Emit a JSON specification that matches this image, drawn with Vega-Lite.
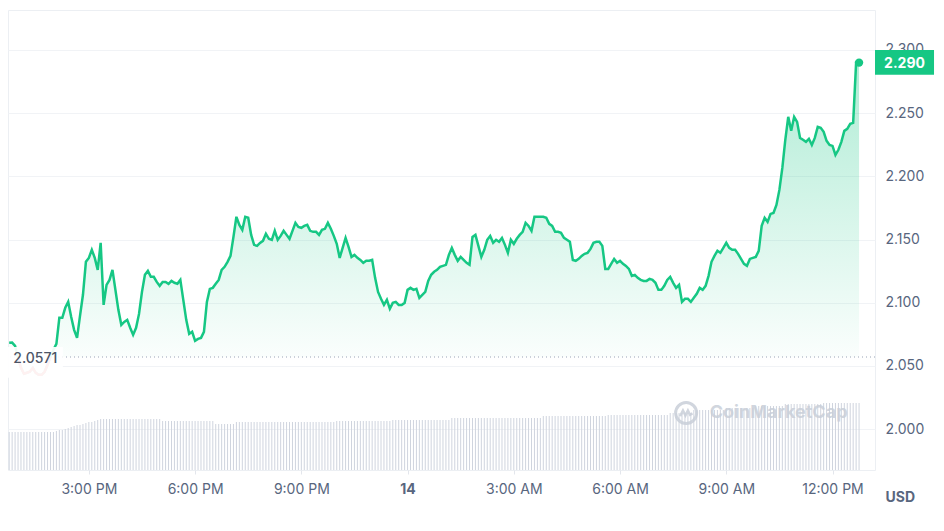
{
  "$schema": "https://vega.github.io/schema/vega-lite/v6.json",
  "width": 867,
  "height": 460,
  "autosize": "none",
  "padding": {"left": 8, "top": 10, "right": 69, "bottom": 61},
  "background": "white",
  "config": {
    "font": "Inter",
    "view": {"stroke": "#eceff3", "strokeWidth": 1},
    "axis": {
      "labelFont": "Inter",
      "labelFontSize": 14,
      "labelColor": "#58667e",
      "domain": false,
      "gridColor": "#f1f3f6",
      "tickColor": "#e3e6ec",
      "titleFont": "Inter"
    }
  },
  "data": {
    "format": {"parse": {"t": "date"}},
    "values": [
      {"t": "2025-04-13T12:45", "p": 2.0683, "v": 380},
      {"t": "2025-04-13T12:50", "p": 2.0685, "v": 380},
      {"t": "2025-04-13T12:55", "p": 2.0659, "v": 380},
      {"t": "2025-04-13T13:00", "p": 2.0564, "v": 380},
      {"t": "2025-04-13T13:05", "p": 2.0485, "v": 380},
      {"t": "2025-04-13T13:10", "p": 2.0438, "v": 380},
      {"t": "2025-04-13T13:15", "p": 2.0446, "v": 380},
      {"t": "2025-04-13T13:20", "p": 2.0454, "v": 380},
      {"t": "2025-04-13T13:25", "p": 2.0485, "v": 380},
      {"t": "2025-04-13T13:30", "p": 2.0446, "v": 380},
      {"t": "2025-04-13T13:35", "p": 2.0430, "v": 380},
      {"t": "2025-04-13T13:40", "p": 2.0430, "v": 380},
      {"t": "2025-04-13T13:45", "p": 2.0454, "v": 380},
      {"t": "2025-04-13T13:50", "p": 2.0509, "v": 380},
      {"t": "2025-04-13T13:55", "p": 2.0572, "v": 380},
      {"t": "2025-04-13T14:00", "p": 2.0628, "v": 380},
      {"t": "2025-04-13T14:05", "p": 2.0675, "v": 390},
      {"t": "2025-04-13T14:10", "p": 2.0881, "v": 400},
      {"t": "2025-04-13T14:15", "p": 2.0881, "v": 400},
      {"t": "2025-04-13T14:20", "p": 2.0960, "v": 410},
      {"t": "2025-04-13T14:25", "p": 2.1007, "v": 420},
      {"t": "2025-04-13T14:30", "p": 2.0889, "v": 430},
      {"t": "2025-04-13T14:35", "p": 2.0786, "v": 440},
      {"t": "2025-04-13T14:40", "p": 2.0722, "v": 450},
      {"t": "2025-04-13T14:45", "p": 2.0896, "v": 450},
      {"t": "2025-04-13T14:50", "p": 2.1063, "v": 460},
      {"t": "2025-04-13T14:55", "p": 2.1324, "v": 470},
      {"t": "2025-04-13T15:00", "p": 2.1355, "v": 480},
      {"t": "2025-04-13T15:05", "p": 2.1419, "v": 480},
      {"t": "2025-04-13T15:10", "p": 2.1355, "v": 490},
      {"t": "2025-04-13T15:15", "p": 2.1260, "v": 500},
      {"t": "2025-04-13T15:20", "p": 2.1474, "v": 510},
      {"t": "2025-04-13T15:25", "p": 2.0983, "v": 510},
      {"t": "2025-04-13T15:30", "p": 2.1142, "v": 510},
      {"t": "2025-04-13T15:35", "p": 2.1181, "v": 510},
      {"t": "2025-04-13T15:40", "p": 2.1260, "v": 510},
      {"t": "2025-04-13T15:45", "p": 2.1102, "v": 510},
      {"t": "2025-04-13T15:50", "p": 2.0944, "v": 510},
      {"t": "2025-04-13T15:55", "p": 2.0825, "v": 510},
      {"t": "2025-04-13T16:00", "p": 2.0849, "v": 510},
      {"t": "2025-04-13T16:05", "p": 2.0865, "v": 510},
      {"t": "2025-04-13T16:10", "p": 2.0802, "v": 510},
      {"t": "2025-04-13T16:15", "p": 2.0746, "v": 510},
      {"t": "2025-04-13T16:20", "p": 2.0802, "v": 510},
      {"t": "2025-04-13T16:25", "p": 2.0912, "v": 510},
      {"t": "2025-04-13T16:30", "p": 2.1086, "v": 510},
      {"t": "2025-04-13T16:35", "p": 2.1221, "v": 510},
      {"t": "2025-04-13T16:40", "p": 2.1252, "v": 510},
      {"t": "2025-04-13T16:45", "p": 2.1205, "v": 510},
      {"t": "2025-04-13T16:50", "p": 2.1205, "v": 510},
      {"t": "2025-04-13T16:55", "p": 2.1165, "v": 510},
      {"t": "2025-04-13T17:00", "p": 2.1134, "v": 510},
      {"t": "2025-04-13T17:05", "p": 2.1165, "v": 490},
      {"t": "2025-04-13T17:10", "p": 2.1165, "v": 490},
      {"t": "2025-04-13T17:15", "p": 2.1150, "v": 490},
      {"t": "2025-04-13T17:20", "p": 2.1173, "v": 490},
      {"t": "2025-04-13T17:25", "p": 2.1158, "v": 490},
      {"t": "2025-04-13T17:30", "p": 2.1150, "v": 490},
      {"t": "2025-04-13T17:35", "p": 2.1181, "v": 490},
      {"t": "2025-04-13T17:40", "p": 2.1023, "v": 490},
      {"t": "2025-04-13T17:45", "p": 2.0865, "v": 490},
      {"t": "2025-04-13T17:50", "p": 2.0754, "v": 490},
      {"t": "2025-04-13T17:55", "p": 2.0770, "v": 490},
      {"t": "2025-04-13T18:00", "p": 2.0699, "v": 490},
      {"t": "2025-04-13T18:05", "p": 2.0714, "v": 490},
      {"t": "2025-04-13T18:10", "p": 2.0722, "v": 490},
      {"t": "2025-04-13T18:15", "p": 2.0770, "v": 490},
      {"t": "2025-04-13T18:20", "p": 2.1007, "v": 490},
      {"t": "2025-04-13T18:25", "p": 2.1110, "v": 490},
      {"t": "2025-04-13T18:30", "p": 2.1118, "v": 490},
      {"t": "2025-04-13T18:35", "p": 2.1150, "v": 460},
      {"t": "2025-04-13T18:40", "p": 2.1181, "v": 460},
      {"t": "2025-04-13T18:45", "p": 2.1260, "v": 460},
      {"t": "2025-04-13T18:50", "p": 2.1284, "v": 460},
      {"t": "2025-04-13T18:55", "p": 2.1324, "v": 460},
      {"t": "2025-04-13T19:00", "p": 2.1371, "v": 460},
      {"t": "2025-04-13T19:05", "p": 2.1521, "v": 460},
      {"t": "2025-04-13T19:10", "p": 2.1680, "v": 480},
      {"t": "2025-04-13T19:15", "p": 2.1616, "v": 480},
      {"t": "2025-04-13T19:20", "p": 2.1577, "v": 480},
      {"t": "2025-04-13T19:25", "p": 2.1680, "v": 480},
      {"t": "2025-04-13T19:30", "p": 2.1672, "v": 480},
      {"t": "2025-04-13T19:35", "p": 2.1537, "v": 480},
      {"t": "2025-04-13T19:40", "p": 2.1458, "v": 480},
      {"t": "2025-04-13T19:45", "p": 2.1450, "v": 480},
      {"t": "2025-04-13T19:50", "p": 2.1474, "v": 480},
      {"t": "2025-04-13T19:55", "p": 2.1490, "v": 480},
      {"t": "2025-04-13T20:00", "p": 2.1545, "v": 480},
      {"t": "2025-04-13T20:05", "p": 2.1506, "v": 480},
      {"t": "2025-04-13T20:10", "p": 2.1498, "v": 480},
      {"t": "2025-04-13T20:15", "p": 2.1569, "v": 480},
      {"t": "2025-04-13T20:20", "p": 2.1498, "v": 480},
      {"t": "2025-04-13T20:25", "p": 2.1529, "v": 480},
      {"t": "2025-04-13T20:30", "p": 2.1569, "v": 480},
      {"t": "2025-04-13T20:35", "p": 2.1537, "v": 480},
      {"t": "2025-04-13T20:40", "p": 2.1506, "v": 480},
      {"t": "2025-04-13T20:45", "p": 2.1569, "v": 480},
      {"t": "2025-04-13T20:50", "p": 2.1632, "v": 480},
      {"t": "2025-04-13T20:55", "p": 2.1600, "v": 480},
      {"t": "2025-04-13T21:00", "p": 2.1593, "v": 480},
      {"t": "2025-04-13T21:05", "p": 2.1608, "v": 480},
      {"t": "2025-04-13T21:10", "p": 2.1616, "v": 480},
      {"t": "2025-04-13T21:15", "p": 2.1569, "v": 480},
      {"t": "2025-04-13T21:20", "p": 2.1561, "v": 480},
      {"t": "2025-04-13T21:25", "p": 2.1561, "v": 480},
      {"t": "2025-04-13T21:30", "p": 2.1537, "v": 480},
      {"t": "2025-04-13T21:35", "p": 2.1577, "v": 480},
      {"t": "2025-04-13T21:40", "p": 2.1585, "v": 480},
      {"t": "2025-04-13T21:45", "p": 2.1632, "v": 480},
      {"t": "2025-04-13T21:50", "p": 2.1585, "v": 480},
      {"t": "2025-04-13T21:55", "p": 2.1529, "v": 480},
      {"t": "2025-04-13T22:00", "p": 2.1466, "v": 490},
      {"t": "2025-04-13T22:05", "p": 2.1355, "v": 490},
      {"t": "2025-04-13T22:10", "p": 2.1434, "v": 490},
      {"t": "2025-04-13T22:15", "p": 2.1513, "v": 490},
      {"t": "2025-04-13T22:20", "p": 2.1442, "v": 490},
      {"t": "2025-04-13T22:25", "p": 2.1363, "v": 490},
      {"t": "2025-04-13T22:30", "p": 2.1379, "v": 490},
      {"t": "2025-04-13T22:35", "p": 2.1355, "v": 490},
      {"t": "2025-04-13T22:40", "p": 2.1339, "v": 490},
      {"t": "2025-04-13T22:45", "p": 2.1316, "v": 490},
      {"t": "2025-04-13T22:50", "p": 2.1332, "v": 490},
      {"t": "2025-04-13T22:55", "p": 2.1332, "v": 490},
      {"t": "2025-04-13T23:00", "p": 2.1339, "v": 490},
      {"t": "2025-04-13T23:05", "p": 2.1197, "v": 490},
      {"t": "2025-04-13T23:10", "p": 2.1086, "v": 490},
      {"t": "2025-04-13T23:15", "p": 2.1031, "v": 490},
      {"t": "2025-04-13T23:20", "p": 2.0983, "v": 490},
      {"t": "2025-04-13T23:25", "p": 2.1023, "v": 490},
      {"t": "2025-04-13T23:30", "p": 2.0952, "v": 490},
      {"t": "2025-04-13T23:35", "p": 2.0999, "v": 500},
      {"t": "2025-04-13T23:40", "p": 2.1007, "v": 500},
      {"t": "2025-04-13T23:45", "p": 2.0983, "v": 500},
      {"t": "2025-04-13T23:50", "p": 2.0983, "v": 500},
      {"t": "2025-04-13T23:55", "p": 2.0999, "v": 500},
      {"t": "2025-04-14T00:00", "p": 2.1102, "v": 500},
      {"t": "2025-04-14T00:05", "p": 2.1118, "v": 500},
      {"t": "2025-04-14T00:10", "p": 2.1102, "v": 500},
      {"t": "2025-04-14T00:15", "p": 2.1110, "v": 500},
      {"t": "2025-04-14T00:20", "p": 2.1039, "v": 500},
      {"t": "2025-04-14T00:25", "p": 2.1063, "v": 500},
      {"t": "2025-04-14T00:30", "p": 2.1086, "v": 500},
      {"t": "2025-04-14T00:35", "p": 2.1173, "v": 500},
      {"t": "2025-04-14T00:40", "p": 2.1221, "v": 500},
      {"t": "2025-04-14T00:45", "p": 2.1245, "v": 500},
      {"t": "2025-04-14T00:50", "p": 2.1260, "v": 500},
      {"t": "2025-04-14T00:55", "p": 2.1284, "v": 500},
      {"t": "2025-04-14T01:00", "p": 2.1292, "v": 500},
      {"t": "2025-04-14T01:05", "p": 2.1300, "v": 500},
      {"t": "2025-04-14T01:10", "p": 2.1379, "v": 500},
      {"t": "2025-04-14T01:15", "p": 2.1434, "v": 520},
      {"t": "2025-04-14T01:20", "p": 2.1379, "v": 520},
      {"t": "2025-04-14T01:25", "p": 2.1332, "v": 520},
      {"t": "2025-04-14T01:30", "p": 2.1363, "v": 520},
      {"t": "2025-04-14T01:35", "p": 2.1339, "v": 520},
      {"t": "2025-04-14T01:40", "p": 2.1316, "v": 520},
      {"t": "2025-04-14T01:45", "p": 2.1300, "v": 520},
      {"t": "2025-04-14T01:50", "p": 2.1521, "v": 520},
      {"t": "2025-04-14T01:55", "p": 2.1537, "v": 520},
      {"t": "2025-04-14T02:00", "p": 2.1450, "v": 520},
      {"t": "2025-04-14T02:05", "p": 2.1363, "v": 520},
      {"t": "2025-04-14T02:10", "p": 2.1419, "v": 520},
      {"t": "2025-04-14T02:15", "p": 2.1498, "v": 520},
      {"t": "2025-04-14T02:20", "p": 2.1529, "v": 520},
      {"t": "2025-04-14T02:25", "p": 2.1474, "v": 520},
      {"t": "2025-04-14T02:30", "p": 2.1498, "v": 520},
      {"t": "2025-04-14T02:35", "p": 2.1482, "v": 520},
      {"t": "2025-04-14T02:40", "p": 2.1513, "v": 520},
      {"t": "2025-04-14T02:45", "p": 2.1458, "v": 520},
      {"t": "2025-04-14T02:50", "p": 2.1395, "v": 520},
      {"t": "2025-04-14T02:55", "p": 2.1498, "v": 520},
      {"t": "2025-04-14T03:00", "p": 2.1466, "v": 520},
      {"t": "2025-04-14T03:05", "p": 2.1506, "v": 520},
      {"t": "2025-04-14T03:10", "p": 2.1537, "v": 520},
      {"t": "2025-04-14T03:15", "p": 2.1561, "v": 520},
      {"t": "2025-04-14T03:20", "p": 2.1632, "v": 520},
      {"t": "2025-04-14T03:25", "p": 2.1608, "v": 520},
      {"t": "2025-04-14T03:30", "p": 2.1569, "v": 520},
      {"t": "2025-04-14T03:35", "p": 2.1680, "v": 520},
      {"t": "2025-04-14T03:40", "p": 2.1680, "v": 520},
      {"t": "2025-04-14T03:45", "p": 2.1680, "v": 520},
      {"t": "2025-04-14T03:50", "p": 2.1680, "v": 540},
      {"t": "2025-04-14T03:55", "p": 2.1672, "v": 540},
      {"t": "2025-04-14T04:00", "p": 2.1624, "v": 540},
      {"t": "2025-04-14T04:05", "p": 2.1608, "v": 540},
      {"t": "2025-04-14T04:10", "p": 2.1561, "v": 540},
      {"t": "2025-04-14T04:15", "p": 2.1561, "v": 540},
      {"t": "2025-04-14T04:20", "p": 2.1553, "v": 540},
      {"t": "2025-04-14T04:25", "p": 2.1513, "v": 540},
      {"t": "2025-04-14T04:30", "p": 2.1498, "v": 540},
      {"t": "2025-04-14T04:35", "p": 2.1482, "v": 540},
      {"t": "2025-04-14T04:40", "p": 2.1339, "v": 540},
      {"t": "2025-04-14T04:45", "p": 2.1332, "v": 540},
      {"t": "2025-04-14T04:50", "p": 2.1347, "v": 540},
      {"t": "2025-04-14T04:55", "p": 2.1371, "v": 540},
      {"t": "2025-04-14T05:00", "p": 2.1387, "v": 540},
      {"t": "2025-04-14T05:05", "p": 2.1395, "v": 540},
      {"t": "2025-04-14T05:10", "p": 2.1426, "v": 540},
      {"t": "2025-04-14T05:15", "p": 2.1474, "v": 540},
      {"t": "2025-04-14T05:20", "p": 2.1482, "v": 540},
      {"t": "2025-04-14T05:25", "p": 2.1482, "v": 540},
      {"t": "2025-04-14T05:30", "p": 2.1450, "v": 540},
      {"t": "2025-04-14T05:35", "p": 2.1268, "v": 540},
      {"t": "2025-04-14T05:40", "p": 2.1268, "v": 550},
      {"t": "2025-04-14T05:45", "p": 2.1308, "v": 550},
      {"t": "2025-04-14T05:50", "p": 2.1347, "v": 550},
      {"t": "2025-04-14T05:55", "p": 2.1316, "v": 550},
      {"t": "2025-04-14T06:00", "p": 2.1332, "v": 550},
      {"t": "2025-04-14T06:05", "p": 2.1308, "v": 550},
      {"t": "2025-04-14T06:10", "p": 2.1292, "v": 550},
      {"t": "2025-04-14T06:15", "p": 2.1268, "v": 550},
      {"t": "2025-04-14T06:20", "p": 2.1213, "v": 550},
      {"t": "2025-04-14T06:25", "p": 2.1221, "v": 550},
      {"t": "2025-04-14T06:30", "p": 2.1197, "v": 550},
      {"t": "2025-04-14T06:35", "p": 2.1181, "v": 550},
      {"t": "2025-04-14T06:40", "p": 2.1173, "v": 550},
      {"t": "2025-04-14T06:45", "p": 2.1173, "v": 550},
      {"t": "2025-04-14T06:50", "p": 2.1189, "v": 550},
      {"t": "2025-04-14T06:55", "p": 2.1181, "v": 550},
      {"t": "2025-04-14T07:00", "p": 2.1158, "v": 550},
      {"t": "2025-04-14T07:05", "p": 2.1102, "v": 550},
      {"t": "2025-04-14T07:10", "p": 2.1102, "v": 550},
      {"t": "2025-04-14T07:15", "p": 2.1134, "v": 550},
      {"t": "2025-04-14T07:20", "p": 2.1181, "v": 550},
      {"t": "2025-04-14T07:25", "p": 2.1205, "v": 570},
      {"t": "2025-04-14T07:30", "p": 2.1158, "v": 570},
      {"t": "2025-04-14T07:35", "p": 2.1118, "v": 570},
      {"t": "2025-04-14T07:40", "p": 2.1142, "v": 570},
      {"t": "2025-04-14T07:45", "p": 2.1007, "v": 570},
      {"t": "2025-04-14T07:50", "p": 2.1031, "v": 570},
      {"t": "2025-04-14T07:55", "p": 2.1031, "v": 570},
      {"t": "2025-04-14T08:00", "p": 2.1007, "v": 570},
      {"t": "2025-04-14T08:05", "p": 2.1039, "v": 600},
      {"t": "2025-04-14T08:10", "p": 2.1071, "v": 600},
      {"t": "2025-04-14T08:15", "p": 2.1118, "v": 600},
      {"t": "2025-04-14T08:20", "p": 2.1102, "v": 600},
      {"t": "2025-04-14T08:25", "p": 2.1134, "v": 600},
      {"t": "2025-04-14T08:30", "p": 2.1213, "v": 600},
      {"t": "2025-04-14T08:35", "p": 2.1324, "v": 600},
      {"t": "2025-04-14T08:40", "p": 2.1371, "v": 600},
      {"t": "2025-04-14T08:45", "p": 2.1411, "v": 600},
      {"t": "2025-04-14T08:50", "p": 2.1395, "v": 600},
      {"t": "2025-04-14T08:55", "p": 2.1434, "v": 600},
      {"t": "2025-04-14T09:00", "p": 2.1474, "v": 620},
      {"t": "2025-04-14T09:05", "p": 2.1434, "v": 620},
      {"t": "2025-04-14T09:10", "p": 2.1419, "v": 620},
      {"t": "2025-04-14T09:15", "p": 2.1419, "v": 620},
      {"t": "2025-04-14T09:20", "p": 2.1387, "v": 620},
      {"t": "2025-04-14T09:25", "p": 2.1347, "v": 620},
      {"t": "2025-04-14T09:30", "p": 2.1308, "v": 620},
      {"t": "2025-04-14T09:35", "p": 2.1292, "v": 620},
      {"t": "2025-04-14T09:40", "p": 2.1347, "v": 620},
      {"t": "2025-04-14T09:45", "p": 2.1355, "v": 620},
      {"t": "2025-04-14T09:50", "p": 2.1363, "v": 640},
      {"t": "2025-04-14T09:55", "p": 2.1411, "v": 640},
      {"t": "2025-04-14T10:00", "p": 2.1608, "v": 640},
      {"t": "2025-04-14T10:05", "p": 2.1672, "v": 640},
      {"t": "2025-04-14T10:10", "p": 2.1640, "v": 640},
      {"t": "2025-04-14T10:15", "p": 2.1703, "v": 640},
      {"t": "2025-04-14T10:20", "p": 2.1711, "v": 640},
      {"t": "2025-04-14T10:25", "p": 2.1774, "v": 640},
      {"t": "2025-04-14T10:30", "p": 2.1893, "v": 640},
      {"t": "2025-04-14T10:35", "p": 2.2067, "v": 640},
      {"t": "2025-04-14T10:40", "p": 2.2289, "v": 660},
      {"t": "2025-04-14T10:45", "p": 2.2471, "v": 660},
      {"t": "2025-04-14T10:50", "p": 2.2360, "v": 660},
      {"t": "2025-04-14T10:55", "p": 2.2471, "v": 660},
      {"t": "2025-04-14T11:00", "p": 2.2431, "v": 660},
      {"t": "2025-04-14T11:05", "p": 2.2304, "v": 660},
      {"t": "2025-04-14T11:10", "p": 2.2289, "v": 660},
      {"t": "2025-04-14T11:15", "p": 2.2273, "v": 660},
      {"t": "2025-04-14T11:20", "p": 2.2297, "v": 660},
      {"t": "2025-04-14T11:25", "p": 2.2249, "v": 660},
      {"t": "2025-04-14T11:30", "p": 2.2304, "v": 660},
      {"t": "2025-04-14T11:35", "p": 2.2391, "v": 660},
      {"t": "2025-04-14T11:40", "p": 2.2384, "v": 660},
      {"t": "2025-04-14T11:45", "p": 2.2352, "v": 670},
      {"t": "2025-04-14T11:50", "p": 2.2281, "v": 670},
      {"t": "2025-04-14T11:55", "p": 2.2249, "v": 670},
      {"t": "2025-04-14T12:00", "p": 2.2241, "v": 670},
      {"t": "2025-04-14T12:05", "p": 2.2170, "v": 670},
      {"t": "2025-04-14T12:10", "p": 2.2210, "v": 670},
      {"t": "2025-04-14T12:15", "p": 2.2273, "v": 670},
      {"t": "2025-04-14T12:20", "p": 2.2360, "v": 670},
      {"t": "2025-04-14T12:25", "p": 2.2376, "v": 670},
      {"t": "2025-04-14T12:30", "p": 2.2415, "v": 670},
      {"t": "2025-04-14T12:35", "p": 2.2423, "v": 670},
      {"t": "2025-04-14T12:40", "p": 2.2900, "v": 670},
      {"t": "2025-04-14T12:45", "p": 2.2900, "v": 670}
    ]
  },
  "encoding": {
    "x": {
      "field": "t",
      "type": "temporal",
      "scale": {
        "domain": [
          {"year": 2025, "month": 4, "date": 13, "hours": 12, "minutes": 43},
          {"year": 2025, "month": 4, "date": 14, "hours": 13, "minutes": 12}
        ]
      },
      "axis": {
        "title": null,
        "grid": false,
        "values": [
          {"year": 2025, "month": 4, "date": 13, "hours": 15},
          {"year": 2025, "month": 4, "date": 13, "hours": 18},
          {"year": 2025, "month": 4, "date": 13, "hours": 21},
          {"year": 2025, "month": 4, "date": 14, "hours": 0},
          {"year": 2025, "month": 4, "date": 14, "hours": 3},
          {"year": 2025, "month": 4, "date": 14, "hours": 6},
          {"year": 2025, "month": 4, "date": 14, "hours": 9},
          {"year": 2025, "month": 4, "date": 14, "hours": 12}
        ],
        "labelExpr": "hours(datum.value) == 0 ? timeFormat(datum.value, '%-d') : timeFormat(datum.value, '%-I:%M %p')",
        "labelFontWeight": {"condition": {"test": "hours(datum.value) == 0", "value": "bold"}, "value": "normal"},
        "tickSize": 4,
        "labelPadding": 8,
        "labelFlush": false,
        "labelOverlap": false
      }
    }
  },
  "layer": [
    {
      "mark": {"type": "rule", "color": "#cfd4de", "strokeWidth": 1},
      "encoding": {
        "y": {"field": "v", "type": "quantitative", "scale": {"domain": [0, 4600]}, "axis": null},
        "y2": {"datum": 0}
      }
    },
    {
      "encoding": {
        "y": {
          "field": "p",
          "type": "quantitative",
          "scale": {"domain": [1.9677, 2.3316], "nice": false, "zero": false},
          "axis": {
            "orient": "right",
            "values": [2.0, 2.05, 2.1, 2.15, 2.2, 2.25, 2.3],
            "format": ".3f",
            "grid": true,
            "ticks": false,
            "labelPadding": 10,
            "title": "USD",
            "titleAngle": 0,
            "titleAlign": "left",
            "titleBaseline": "middle",
            "titleX": 10,
            "titleY": 487,
            "titleFontSize": 14,
            "titleFontWeight": "bold",
            "titleColor": "#58667e"
          }
        }
      },
      "layer": [
        {
          "transform": [{"filter": "datum.p >= 2.0571"}],
          "mark": {
            "type": "area",
            "fill": {
              "gradient": "linear",
              "x1": 0, "y1": 0, "x2": 0, "y2": 1,
              "stops": [
                {"offset": 0, "color": "rgba(22,199,132,0.34)"},
                {"offset": 1, "color": "rgba(22,199,132,0.02)"}
              ]
            }
          },
          "encoding": {"y2": {"datum": 2.0571}}
        },
        {
          "transform": [{"filter": "time(datum.t) == time(datetime(2025,3,14,12,45))"}],
          "mark": {"type": "rule", "color": "#9aa3b5", "strokeWidth": 1.2, "strokeDash": [1, 3]},
          "encoding": {"x": null, "y": {"datum": 2.0571, "type": "quantitative"}}
        },
        {
          "mark": {"type": "line", "color": "#16c784", "strokeWidth": 2.5},
          "encoding": {}
        },
        {
          "transform": [{"filter": "datum.t >= datetime(2025,3,13,13,0) && datum.t <= datetime(2025,3,13,13,55)"}],
          "mark": {"type": "line", "color": "#ea3943", "strokeWidth": 2.5},
          "encoding": {}
        },
        {
          "transform": [{"filter": "time(datum.t) == time(datetime(2025,3,14,12,45))"}],
          "mark": {"type": "rect", "fill": "white", "opacity": 0.93},
          "encoding": {
            "x": {"datum": {"year": 2025, "month": 4, "date": 13, "hours": 12, "minutes": 43}, "type": "temporal"},
            "x2": {"datum": {"year": 2025, "month": 4, "date": 13, "hours": 14, "minutes": 16}},
            "y": {"datum": 2.0651, "type": "quantitative"},
            "y2": {"datum": 2.0406}
          }
        },
        {
          "transform": [{"filter": "time(datum.t) == time(datetime(2025,3,14,12,45))"}],
          "mark": {"type": "text", "text": "2.0571", "align": "left", "baseline": "middle", "dy": 2, "fontSize": 14, "fontWeight": 500, "color": "#4d5566"},
          "encoding": {
            "x": {"datum": {"year": 2025, "month": 4, "date": 13, "hours": 12, "minutes": 52}, "type": "temporal"},
            "y": {"datum": 2.0571, "type": "quantitative"}
          }
        },
        {
          "transform": [{"filter": "time(datum.t) == time(datetime(2025,3,14,12,45))"}],
          "mark": {"type": "point", "shape": "circle", "filled": true, "size": 70, "color": "#16c784", "opacity": 1},
          "encoding": {}
        },
        {
          "transform": [{"filter": "time(datum.t) == time(datetime(2025,3,14,12,45))"}],
          "mark": {"type": "rect", "fill": "#16c784"},
          "encoding": {
            "x": {"datum": {"year": 2025, "month": 4, "date": 14, "hours": 13, "minutes": 12}, "type": "temporal"},
            "x2": {"datum": {"year": 2025, "month": 4, "date": 14, "hours": 14, "minutes": 52}},
            "y": {"datum": 2.3, "type": "quantitative"},
            "y2": {"datum": 2.2803}
          }
        },
        {
          "transform": [{"filter": "time(datum.t) == time(datetime(2025,3,14,12,45))"}],
          "mark": {"type": "text", "align": "center", "baseline": "middle", "dy": 1, "fontSize": 14, "fontWeight": "bold", "color": "white"},
          "encoding": {
            "x": {"datum": {"year": 2025, "month": 4, "date": 14, "hours": 14, "minutes": 2}, "type": "temporal"},
            "text": {"field": "p", "type": "quantitative", "format": ".3f"}
          }
        },
        {
          "transform": [{"filter": "time(datum.t) == time(datetime(2025,3,14,12,45))"}],
          "mark": {"type": "point", "shape": "circle", "filled": false, "size": 441, "strokeWidth": 3, "color": "#c9cfd9", "opacity": 0.85},
          "encoding": {
            "x": {"datum": {"year": 2025, "month": 4, "date": 14, "hours": 7, "minutes": 52}, "type": "temporal"},
            "y": {"datum": 2.0128, "type": "quantitative"}
          }
        },
        {
          "transform": [{"filter": "time(datum.t) == time(datetime(2025,3,14,12,45))"}],
          "mark": {"type": "point", "shape": "M-0.85,0.45 L-0.45,-0.35 L-0.1,0.35 L0.25,-0.35 L0.55,0.25 L0.9,0.05", "filled": false, "size": 200, "strokeWidth": 2.5, "color": "#c9cfd9", "opacity": 0.85},
          "encoding": {
            "x": {"datum": {"year": 2025, "month": 4, "date": 14, "hours": 7, "minutes": 52}, "type": "temporal"},
            "y": {"datum": 2.0128, "type": "quantitative"}
          }
        },
        {
          "transform": [{"filter": "time(datum.t) == time(datetime(2025,3,14,12,45))"}],
          "mark": {"type": "text", "text": "CoinMarketCap", "align": "left", "baseline": "middle", "fontSize": 18, "fontWeight": "bold", "color": "#c9cfd9", "opacity": 0.85},
          "encoding": {
            "x": {"datum": {"year": 2025, "month": 4, "date": 14, "hours": 8, "minutes": 32}, "type": "temporal"},
            "y": {"datum": 2.0128, "type": "quantitative"}
          }
        }
      ]
    }
  ],
  "resolve": {"scale": {"y": "independent"}}
}
